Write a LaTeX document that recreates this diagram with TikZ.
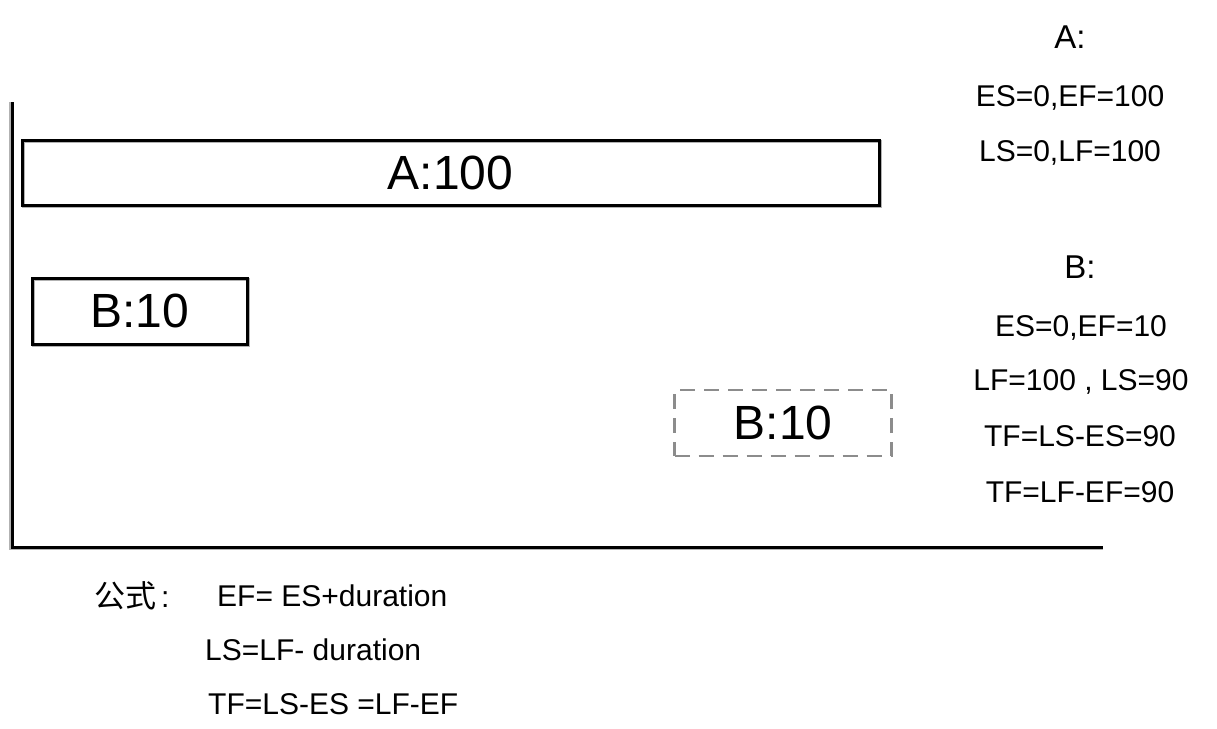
\documentclass[tikz,border=0pt]{standalone}
\usepackage{fontspec}
\setmainfont{Liberation Sans}
\newfontfamily\cjk{Noto Sans CJK SC}
\begin{document}
\begin{tikzpicture}[x=1pt,y=-1pt,
  bar/.style={draw=black,line width=3pt,inner sep=0pt,font=\fontsize{48}{56}\selectfont},
  ghost/.style={draw=black!45,line width=2.5pt,dash pattern=on 15pt off 9pt,inner sep=0pt,font=\fontsize{48}{56}\selectfont},
  info/.style={inner sep=0pt,font=\fontsize{30}{36}\selectfont},
  head/.style={inner sep=0pt,font=\fontsize{33}{40}\selectfont},
  axis/.style={line width=3pt},
  shade/.style={line width=3pt,draw=black!30}]
\useasboundingbox (0,0) rectangle (1217,728);
% axes
\coordinate (top) at (12,102);
\coordinate (origin) at (12,547);
\coordinate (xend) at (1103,547);
\draw[shade] ([xshift=-1.5pt]top) -- ([xshift=-1.5pt,yshift=-1.5pt]origin) -- ([yshift=-1.5pt]xend);
\draw[axis] (top) -- (origin) -- (xend);
% boxes
\node[bar,draw=black!30,minimum width=857pt,minimum height=65pt] (As) at (451.5,173.5) {};
\node[bar,minimum width=857pt,minimum height=65pt] (A) at (450.5,172.5) {A:100};
\node[bar,draw=black!30,minimum width=215pt,minimum height=66pt] (Bs) at (140.5,312) {};
\node[bar,minimum width=215pt,minimum height=66pt] (B) at (139.5,311) {B:10};
\node[ghost,minimum width=217pt,minimum height=66pt] (Bl) at (783,423) {B:10};
% right info
\node[head] (Ah) at (1070,37) {A:};
\node[info] (A1) at (1070,98) {ES=0,EF=100};
\node[info] (A2) at (1070,153) {LS=0,LF=100};
\node[head] (Bh) at (1080,267) {B:};
\node[info] (B1) at (1081,328) {ES=0,EF=10};
\node[info] (B2) at (1081,382) {LF=100 , LS=90};
\node[info] (B3) at (1080,436) {TF=LS-ES=90};
\node[info] (B4) at (1080,492) {TF=LF-EF=90};
% formulas
\node[info,anchor=west] (Fl) at (94,596) {{\cjk\fontsize{31}{36}\selectfont 公式}\hspace{5pt}:};
\node[info,anchor=west] (F1) at (217,596) {EF= ES+duration};
\node[info,anchor=west] (F2) at (205,650) {LS=LF- duration};
\node[info,anchor=west] (F3) at (208,704) {TF=LS-ES =LF-EF};
\end{tikzpicture}
\end{document}
